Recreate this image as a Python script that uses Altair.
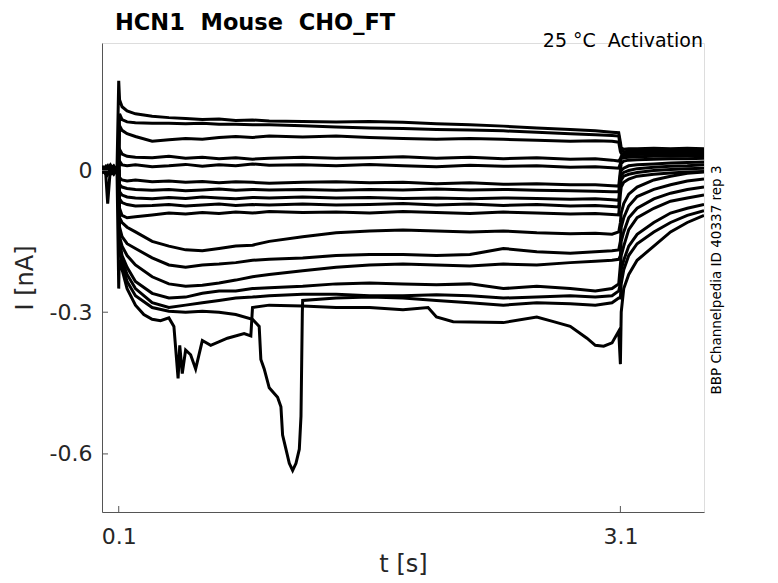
import altair as alt
import pandas as pd

# ---------------- data ----------------
T = [0.0, 0.02, 0.034, 0.05, 0.07, 0.09,
     0.1, 0.105, 0.12, 0.15, 0.2,
     0.3, 0.4, 0.5, 0.6, 0.7, 0.8, 0.9, 1.0,
     1.2, 1.4, 1.6, 1.8, 2.0, 2.2, 2.4, 2.6, 2.8,
     2.95, 3.05, 3.09,
     3.1, 3.105, 3.12, 3.15, 3.2, 3.3, 3.4, 3.5, 3.6]

A = [0.010, 0.000, 0.005, 0.012, 0.000, 0.008,
     0.190, 0.150, 0.135, 0.126, 0.120,
     0.115, 0.112, 0.110, 0.108, 0.109, 0.106, 0.107, 0.105,
     0.104, 0.103, 0.104, 0.102, 0.099, 0.097, 0.094, 0.090, 0.087,
     0.084, 0.081, 0.080,
     0.060, 0.048, 0.045, 0.046, 0.046, 0.047, 0.046, 0.047, 0.046]
B = [0.000, 0.008, -0.004, 0.004, 0.010, 0.000,
     0.000, 0.120, 0.108, 0.103, 0.101,
     0.100, 0.100, 0.099, 0.100, 0.098, 0.098, 0.097, 0.097,
     0.095, 0.092, 0.090, 0.089, 0.087, 0.086, 0.084, 0.081, 0.078,
     0.076, 0.074, 0.073,
     0.050, 0.042, 0.040, 0.041, 0.042, 0.042, 0.043, 0.042, 0.043]
C = [-0.005, 0.004, 0.010, -0.002, 0.006, -0.004,
     0.000, 0.095, 0.085, 0.078, 0.072,
     0.062, 0.065, 0.068, 0.066, 0.070, 0.072, 0.070, 0.073,
     0.071, 0.073, 0.070, 0.068, 0.066, 0.068, 0.066, 0.064, 0.062,
     0.063, 0.062, 0.060,
     0.040, 0.036, 0.035, 0.037, 0.038, 0.038, 0.039, 0.038, 0.039]
D = [0.003, -0.006, 0.006, 0.000, -0.008, 0.002,
     0.000, 0.045, 0.035, 0.030, 0.028,
     0.027, 0.030, 0.026, 0.028, 0.025, 0.027, 0.024, 0.026,
     0.028, 0.026, 0.027, 0.029, 0.026, 0.028, 0.025, 0.027, 0.024,
     0.025, 0.022, 0.020,
     0.025, 0.030, 0.032, 0.033, 0.034, 0.035, 0.034, 0.035, 0.036]
E = [-0.002, 0.006, -0.070, 0.004, -0.006, 0.005,
     0.000, 0.020, 0.012, 0.010, 0.012,
     0.008, 0.010, 0.013, 0.009, 0.012, 0.010, 0.014, 0.011,
     0.012, 0.010, 0.013, 0.010, 0.008, 0.011, 0.009, 0.010, 0.007,
     0.008, 0.006, 0.005,
     0.015, 0.025, 0.027, 0.028, 0.029, 0.030, 0.030, 0.031, 0.031]
F = [0.006, -0.003, 0.002, -0.006, 0.004, -0.002,
     0.000, -0.015, -0.020, -0.022, -0.020,
     -0.024, -0.022, -0.025, -0.023, -0.026, -0.024, -0.025, -0.027,
     -0.025, -0.024, -0.026, -0.025, -0.028, -0.026, -0.029, -0.028, -0.030,
     -0.030, -0.032, -0.033,
     0.000, 0.015, 0.020, 0.022, 0.023, 0.024, 0.025, 0.025, 0.026]
G = [-0.004, 0.005, -0.008, 0.002, 0.007, -0.003,
     0.000, -0.030, -0.035, -0.038, -0.040,
     -0.042, -0.040, -0.043, -0.041, -0.039, -0.042, -0.040, -0.041,
     -0.040, -0.042, -0.040, -0.041, -0.039, -0.041, -0.040, -0.042, -0.043,
     -0.044, -0.045, -0.045,
     -0.010, 0.000, 0.005, 0.010, 0.012, 0.014, 0.016, 0.017, 0.018]
H = [0.002, -0.004, 0.007, -0.003, 0.005, -0.006,
     0.000, -0.045, -0.052, -0.056, -0.058,
     -0.060, -0.057, -0.059, -0.056, -0.058, -0.060, -0.057, -0.058,
     -0.056, -0.058, -0.057, -0.059, -0.058, -0.060, -0.058, -0.059, -0.061,
     -0.060, -0.062, -0.063,
     -0.020, -0.010, -0.004, 0.000, 0.004, 0.007, 0.009, 0.010, 0.012]
I_ = [-0.006, 0.003, -0.002, 0.006, -0.004, 0.004,
      0.000, -0.060, -0.068, -0.072, -0.075,
      -0.074, -0.072, -0.075, -0.073, -0.071, -0.074, -0.072, -0.073,
      -0.071, -0.073, -0.072, -0.070, -0.073, -0.071, -0.074, -0.072, -0.075,
      -0.074, -0.076, -0.077,
      -0.030, -0.020, -0.012, -0.008, -0.004, 0.000, 0.002, 0.004, 0.005]
J = [0.004, -0.005, 0.003, -0.008, 0.002, 0.006,
     0.000, -0.080, -0.095, -0.100, -0.098,
     -0.094, -0.090, -0.092, -0.089, -0.091, -0.088, -0.090, -0.087,
     -0.089, -0.088, -0.090, -0.087, -0.089, -0.091, -0.088, -0.090, -0.092,
     -0.091, -0.093, -0.094,
     -0.050, -0.035, -0.025, -0.018, -0.012, -0.008, -0.005, -0.003, -0.002]
K = [-0.003, 0.006, -0.005, 0.003, -0.002, 0.004,
     0.000, -0.100, -0.110, -0.120, -0.130,
     -0.150, -0.160, -0.168, -0.170, -0.165, -0.160, -0.158, -0.150,
     -0.140, -0.132, -0.128, -0.126, -0.128, -0.130, -0.128, -0.132, -0.134,
     -0.133, -0.135, -0.130,
     -0.110, -0.090, -0.070, -0.050, -0.035, -0.020, -0.012, -0.006, -0.003]
L = [0.005, -0.002, 0.004, -0.006, 0.003, -0.003,
     0.000, -0.120, -0.140, -0.155, -0.165,
     -0.185, -0.200, -0.205, -0.200, -0.198, -0.195, -0.190, -0.188,
     -0.185, -0.180, -0.178, -0.178, -0.180, -0.178, -0.165, -0.172, -0.175,
     -0.172, -0.170, -0.168,
     -0.150, -0.120, -0.100, -0.075, -0.055, -0.040, -0.030, -0.022, -0.018]
M = [-0.002, 0.004, -0.006, 0.005, -0.003, 0.002,
     0.000, -0.140, -0.160, -0.180, -0.200,
     -0.225, -0.240, -0.245, -0.243, -0.238, -0.232, -0.225, -0.220,
     -0.212, -0.205, -0.200, -0.198, -0.200, -0.202, -0.198, -0.200, -0.195,
     -0.192, -0.190, -0.188,
     -0.180, -0.150, -0.130, -0.100, -0.080, -0.060, -0.048, -0.040, -0.035]
N = [0.003, -0.005, 0.002, -0.002, 0.006, -0.004,
     0.000, -0.150, -0.180, -0.205, -0.235,
     -0.260, -0.270, -0.268, -0.260, -0.255, -0.255, -0.250, -0.248,
     -0.245, -0.240, -0.238, -0.240, -0.242, -0.240, -0.250, -0.245, -0.250,
     -0.255, -0.250, -0.240,
     -0.200, -0.180, -0.160, -0.125, -0.100, -0.080, -0.065, -0.058, -0.052]
O = [-0.004, 0.002, -0.003, 0.006, -0.005, 0.003,
     0.000, -0.160, -0.190, -0.220, -0.250,
     -0.280, -0.290, -0.285, -0.280, -0.275, -0.270, -0.268, -0.265,
     -0.262, -0.262, -0.265, -0.265, -0.263, -0.265, -0.270, -0.268, -0.265,
     -0.268, -0.265, -0.255,
     -0.240, -0.210, -0.190, -0.160, -0.135, -0.110, -0.090, -0.080, -0.072]

# lowest sweep (own time points: dips near 0.45 s)
P_T = [0.0, 0.02, 0.034, 0.05, 0.07, 0.09,
       0.1, 0.103, 0.12, 0.15, 0.2, 0.25, 0.3, 0.35, 0.4,
       0.43, 0.455, 0.465, 0.48, 0.5, 0.53, 0.56, 0.6, 0.65, 0.75, 0.85, 0.89,
       0.9, 1.0, 1.2, 1.4, 1.6, 1.8, 1.95, 2.0, 2.1, 2.4, 2.6, 2.7, 2.8, 2.9,
       2.95, 3.0, 3.05, 3.09,
       3.1, 3.105, 3.12, 3.15, 3.2, 3.3, 3.4, 3.5, 3.6]
P_V = [0.004, -0.003, 0.006, -0.005, 0.002, -0.006,
       -0.250, -0.190, -0.210, -0.250, -0.285, -0.305, -0.315, -0.318, -0.312,
       -0.330, -0.440, -0.370, -0.430, -0.380, -0.390, -0.420, -0.360, -0.370,
       -0.355, -0.345, -0.350,
       -0.290, -0.285, -0.287, -0.290, -0.290, -0.295, -0.290, -0.310, -0.320,
       -0.322, -0.310, -0.320, -0.330, -0.355,
       -0.370, -0.372, -0.365, -0.340,
       -0.410, -0.300, -0.250, -0.220, -0.190, -0.160, -0.130, -0.110, -0.095]

# sweep with the deep excursion near 1.1 s
Q_T = [0.0, 0.02, 0.034, 0.05, 0.07, 0.09,
       0.1, 0.105, 0.12, 0.15, 0.2, 0.3, 0.4, 0.5, 0.6, 0.7, 0.8, 0.9,
       0.94, 0.95, 0.97, 1.0, 1.05, 1.07, 1.08, 1.1, 1.12, 1.14, 1.16, 1.18,
       1.19, 1.198,
       1.2, 1.4, 1.6, 1.8, 2.0, 2.2, 2.4, 2.6, 2.8, 2.95, 3.05, 3.09,
       3.1, 3.105, 3.12, 3.15, 3.2, 3.3, 3.4, 3.5, 3.6]
Q_V = [-0.004, 0.005, -0.002, 0.007, -0.005, 0.003,
       0.000, -0.170, -0.200, -0.235, -0.265, -0.290, -0.298, -0.300, -0.298,
       -0.300, -0.305, -0.315,
       -0.330, -0.400, -0.420, -0.460, -0.480, -0.500, -0.560, -0.590, -0.620,
       -0.635, -0.620, -0.590, -0.520, -0.300,
       -0.275, -0.270, -0.268, -0.270, -0.275, -0.280, -0.285, -0.280, -0.282,
       -0.285, -0.280, -0.270,
       -0.270, -0.240, -0.210, -0.180, -0.155, -0.130, -0.110, -0.095, -0.085]

X_TICKS = [0.1, 3.1]
Y_TICKS = [0.0, -0.3, -0.6]
X_DOMAIN = [0.0, 3.6]
Y_DOMAIN = [-0.723, 0.27]

TITLE = "HCN1\u00a0 Mouse\u00a0 CHO_FT"
CONDITION = "25 \u00b0C\u00a0 Activation"
SIDE_NOTE = "BBP Channelpedia ID 40337 rep 3"

# ---------------- build table ----------------
rows = []
for name, vals in [("A", A), ("B", B), ("C", C), ("D", D), ("E", E), ("F", F),
                   ("G", G), ("H", H), ("I", I_), ("J", J), ("K", K), ("L", L),
                   ("M", M), ("N", N), ("O", O)]:
    for t, v in zip(T, vals):
        rows.append({"sweep": name, "t": t, "I": v})
for t, v in zip(P_T, P_V):
    rows.append({"sweep": "P", "t": t, "I": v})
for t, v in zip(Q_T, Q_V):
    rows.append({"sweep": "Q", "t": t, "I": v})
df = pd.DataFrame(rows)

W, H_ = 602, 469
FONT = "DejaVu Sans"
AX = "#262626"

xscale = alt.Scale(domain=X_DOMAIN, nice=False, zero=False)
yscale = alt.Scale(domain=Y_DOMAIN, nice=False, zero=False)

lines = alt.Chart(df).mark_line(color="black", strokeWidth=3, clip=True).encode(
    x=alt.X("t:Q", scale=xscale,
            axis=alt.Axis(values=X_TICKS, format=".1f", title="t [s]",
                          labelFontSize=22, titleFontSize=24, titleFontWeight="normal",
                          labelColor=AX, titleColor=AX, domainColor="#555555",
                          tickSize=0, labelPadding=14, titlePadding=5, grid=False,
                          labelFont=FONT, titleFont=FONT)),
    y=alt.Y("I:Q", scale=yscale,
            axis=alt.Axis(values=Y_TICKS,
                          labelExpr="datum.value == 0 ? '0' : '-' + format(abs(datum.value), '.1f')",
                          title="I [nA]", labelFontSize=22, titleFontSize=24,
                          titleFontWeight="normal", labelColor=AX, titleColor=AX,
                          domainColor="#555555", tickSize=0, labelPadding=10,
                          titlePadding=12, grid=False, labelFont=FONT, titleFont=FONT)),
    detail="sweep:N",
)

ytick = alt.Chart(pd.DataFrame({"I": Y_TICKS})).mark_rule(color="#555555", strokeWidth=1).encode(
    y=alt.Y("I:Q", scale=yscale), x=alt.value(0), x2=alt.value(6))
xtick = alt.Chart(pd.DataFrame({"t": X_TICKS})).mark_rule(color="#555555", strokeWidth=1).encode(
    x=alt.X("t:Q", scale=xscale), y=alt.value(H_), y2=alt.value(H_ - 6))

one = pd.DataFrame({"k": [0]})
title = alt.Chart(one).mark_text(text=TITLE, font=FONT, fontSize=22.5, fontWeight="bold",
                                 align="left", baseline="alphabetic", color="black").encode(
    x=alt.value(13), y=alt.value(-13))
cond = alt.Chart(one).mark_text(text=CONDITION, font=FONT, fontSize=19, align="right",
                                baseline="alphabetic", color="black").encode(
    x=alt.value(601), y=alt.value(4))
side = alt.Chart(one).mark_text(text=SIDE_NOTE, font=FONT, fontSize=13.5, angle=270,
                                align="center", baseline="middle", color="black").encode(
    x=alt.value(615), y=alt.value(237))

chart = alt.layer(lines, ytick, xtick, title, cond, side).properties(
    width=W, height=H_,
    autosize=alt.AutoSizeParams(type="none"),
    padding={"left": 94, "top": 35, "right": 66, "bottom": 70},
).configure_view(stroke=None).configure(font=FONT)

chart.save("out.html", embed_options={"renderer": "svg", "actions": False})
